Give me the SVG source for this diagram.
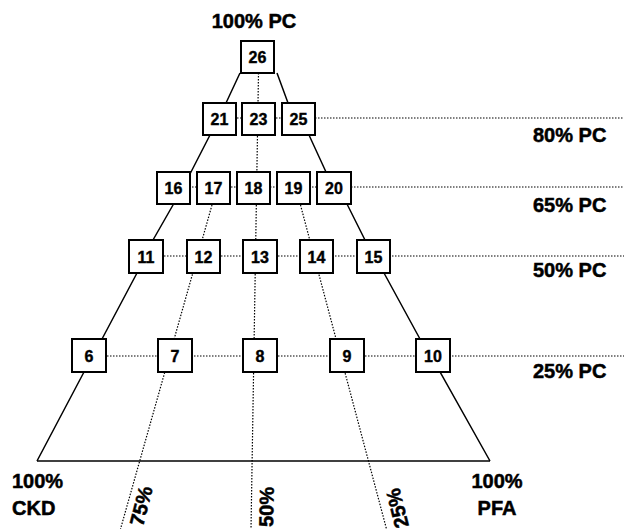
<svg xmlns="http://www.w3.org/2000/svg" width="624" height="529" viewBox="0 0 624 529">
<style>
.solid{stroke:#000;stroke-width:1.5;fill:none}
.dot{stroke:#000;stroke-width:1.2;stroke-dasharray:1.5 1.5;fill:none}
.node rect{fill:#fff;stroke:#000;stroke-width:2}
.node text{font-family:"Liberation Sans",Arial,sans-serif;font-weight:bold;font-size:16px;text-anchor:middle;fill:#000;stroke:#000;stroke-width:0.4}
.lbl{font-family:"Liberation Sans",Arial,sans-serif;font-weight:bold;font-size:20px;fill:#000;stroke:#000;stroke-width:0.5}
</style>
<rect width="624" height="529" fill="#fff"/>
<g id="connectors">
<polyline class="solid" points="240,73 226,103 210,135 191,172 173,205 153,240 137,273 102,339 84,372 37,461"/>
<polyline class="solid" points="277,73 288,103 309,135 326,172 347,204 365,240 384,273 420,339 440,372 490,461"/>
<line class="solid" x1="37" y1="461" x2="490" y2="461"/>
<line class="dot" x1="258.5" y1="73" x2="251" y2="529"/>
<line class="dot" x1="212" y1="205" x2="120.5" y2="529"/>
<line class="dot" x1="300.5" y1="205" x2="386.5" y2="529"/>
<line class="dot" x1="219" y1="118" x2="624" y2="118"/>
<line class="dot" x1="174" y1="187" x2="624" y2="187"/>
<line class="dot" x1="146" y1="256" x2="624" y2="256"/>
<line class="dot" x1="89" y1="356" x2="624" y2="356"/>
</g>
<g id="n26" class="node"><rect x="241" y="41" width="33" height="32"/><text x="257.5" y="63">26</text></g>
<g id="n21" class="node"><rect x="203" y="103" width="33" height="32"/><text x="219.5" y="125">21</text></g>
<g id="n23" class="node"><rect x="242" y="103" width="33" height="32"/><text x="258.5" y="125">23</text></g>
<g id="n25" class="node"><rect x="282" y="103" width="33" height="32"/><text x="298.5" y="125">25</text></g>
<g id="n16" class="node"><rect x="157" y="172" width="33" height="32"/><text x="173.5" y="194">16</text></g>
<g id="n17" class="node"><rect x="197" y="172" width="33" height="32"/><text x="213.5" y="194">17</text></g>
<g id="n18" class="node"><rect x="237" y="172" width="33" height="32"/><text x="253.5" y="194">18</text></g>
<g id="n19" class="node"><rect x="277" y="172" width="33" height="32"/><text x="293.5" y="194">19</text></g>
<g id="n20" class="node"><rect x="317" y="172" width="34" height="32"/><text x="334" y="194">20</text></g>
<g id="n11" class="node"><rect x="129" y="240" width="34" height="33"/><text x="146" y="262.5">11</text></g>
<g id="n12" class="node"><rect x="187" y="240" width="33" height="33"/><text x="203.5" y="262.5">12</text></g>
<g id="n13" class="node"><rect x="243" y="240" width="34" height="33"/><text x="260" y="262.5">13</text></g>
<g id="n14" class="node"><rect x="300" y="240" width="33" height="33"/><text x="316.5" y="262.5">14</text></g>
<g id="n15" class="node"><rect x="357" y="240" width="33" height="33"/><text x="373.5" y="262.5">15</text></g>
<g id="n6" class="node"><rect x="72" y="339" width="34" height="33"/><text x="89" y="361.5">6</text></g>
<g id="n7" class="node"><rect x="158" y="339" width="34" height="33"/><text x="175" y="361.5">7</text></g>
<g id="n8" class="node"><rect x="243" y="339" width="34" height="33"/><text x="260" y="361.5">8</text></g>
<g id="n9" class="node"><rect x="330" y="339" width="34" height="33"/><text x="347" y="361.5">9</text></g>
<g id="n10" class="node"><rect x="416" y="339" width="34" height="33"/><text x="433" y="361.5">10</text></g>
<g id="labels">
<text class="lbl" x="254" y="28" text-anchor="middle">100% PC</text>
<text class="lbl" x="533" y="142">80% PC</text>
<text class="lbl" x="533" y="212">65% PC</text>
<text class="lbl" x="533" y="277">50% PC</text>
<text class="lbl" x="533" y="378">25% PC</text>
<text class="lbl" x="12" y="488">100%</text>
<text class="lbl" x="12" y="515">CKD</text>
<text class="lbl" x="497" y="488" text-anchor="middle">100%</text>
<text class="lbl" x="497" y="515" text-anchor="middle">PFA</text>
<text class="lbl" transform="translate(143,527) rotate(-76)">75%</text>
<text class="lbl" transform="translate(273,527) rotate(-89)">50%</text>
<text class="lbl" transform="translate(409,526) rotate(-104)">25%</text>
</g>
</svg>
